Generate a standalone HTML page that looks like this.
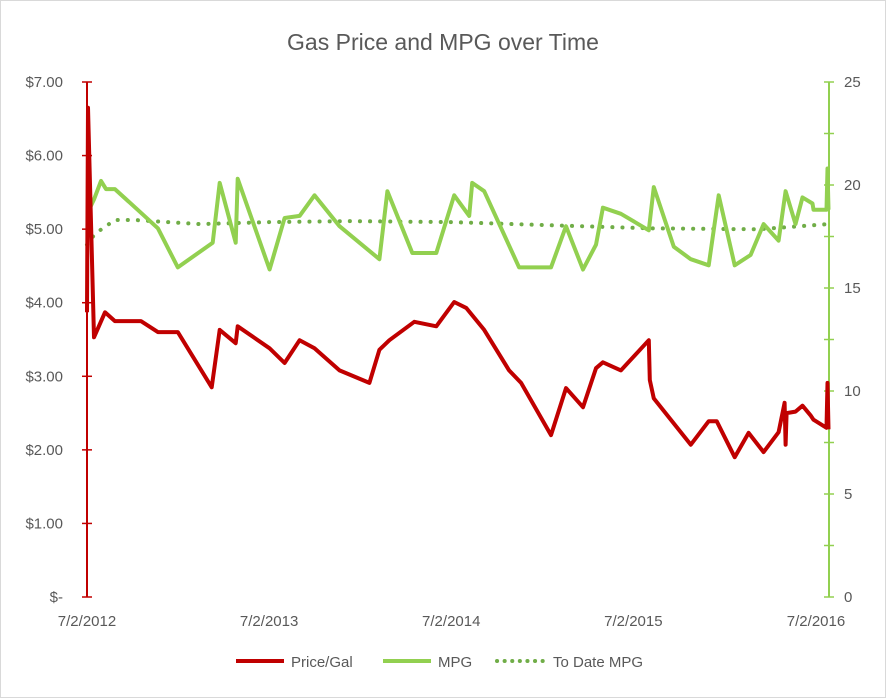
<!DOCTYPE html>
<html><head><meta charset="utf-8"><style>
body{margin:0;background:#fff}
svg{display:block;font-family:"Liberation Sans",Arial,sans-serif}
</style></head><body>
<svg id="c" width="886" height="698">
<rect x="0.5" y="0.5" width="885" height="697" fill="#fff" stroke="#d9d9d9"/>
<text x="443" y="50" text-anchor="middle" font-size="23" fill="#595959">Gas Price and MPG over Time</text>
<g id="axes"></g><g id="series"></g>
<g>
<g><line x1="236" y1="661" x2="284" y2="661" stroke="#c00000" stroke-width="4"/><text x="291" y="667" font-size="15" fill="#595959">Price/Gal</text></g>
<g><line x1="383" y1="661" x2="431" y2="661" stroke="#92d050" stroke-width="4"/><text x="438" y="667" font-size="15" fill="#595959">MPG</text></g>
<g><line x1="497" y1="661" x2="545" y2="661" stroke="#70ad47" stroke-width="4" stroke-dasharray="0.1 7.5" stroke-linecap="round"/><text x="553" y="667" font-size="15" fill="#595959">To Date MPG</text></g>
</g>
</svg>
<script>
const xTickLabels=["7/2/2012","7/2/2013","7/2/2014","7/2/2015","7/2/2016"];
const xTickDays=[0,365,730,1095,1461];
const priceTicks=[0,1,2,3,4,5,6,7];
const priceTickLabels=["$-","$1.00","$2.00","$3.00","$4.00","$5.00","$6.00","$7.00"];
const mpgTicks=[0,5,10,15,20,25];
const priceDays=[0,2,14,36,56,108,142,182,250,266,298,302,366,396,426,456,506,566,586,606,656,700,736,760,796,846,870,930,960,994,1020,1034,1070,1126,1128,1136,1210,1246,1262,1298,1326,1356,1386,1398,1400,1402,1420,1434,1450,1456,1482,1484,1486];
const priceVals=[3.87,6.65,3.53,3.87,3.75,3.75,3.60,3.60,2.85,3.63,3.45,3.68,3.38,3.18,3.49,3.38,3.08,2.91,3.36,3.49,3.74,3.68,4.01,3.93,3.63,3.08,2.91,2.20,2.84,2.58,3.11,3.19,3.08,3.49,2.95,2.70,2.07,2.39,2.39,1.90,2.23,1.97,2.24,2.64,2.07,2.50,2.52,2.60,2.47,2.41,2.30,2.91,2.28];
const mpgDays=[0,6,14,28,38,56,106,142,182,252,266,298,302,366,396,426,456,506,586,602,652,700,736,766,772,796,866,930,960,994,1020,1034,1070,1126,1136,1176,1210,1246,1266,1298,1330,1356,1386,1400,1420,1434,1454,1456,1482,1484,1486];
const mpgVals=[19.0,18.9,19.3,20.2,19.8,19.8,18.7,17.9,16.0,17.2,20.1,17.2,20.3,15.9,18.4,18.5,19.5,18.0,16.4,19.7,16.7,16.7,19.5,18.5,20.1,19.7,16.0,16.0,18.0,15.9,17.1,18.9,18.6,17.8,19.9,17.0,16.4,16.1,19.5,16.1,16.6,18.1,17.3,19.7,18.1,19.4,19.1,18.8,18.8,20.8,18.8];
const todayDays=[0,12,26,56,96,226,366,526,730,926,1126,1346,1486];
const todayVals=[17.1,17.5,17.8,18.3,18.3,18.1,18.2,18.25,18.2,18.05,17.9,17.85,18.1];

const X0=87,X1=816,Y0=597,Y1=82,XR=829;
const xs=d=>X0+(d/1461)*(X1-X0);
const yp=v=>Y0-(v/7)*(Y0-Y1);
const ym=v=>Y0-(v/25)*(Y0-Y1);
const NS="http://www.w3.org/2000/svg";
function mk(tag,attrs,parent){const e=document.createElementNS(NS,tag);for(const k in attrs)e.setAttribute(k,attrs[k]);parent.appendChild(e);return e;}
const ax=document.getElementById('axes'),se=document.getElementById('series');
let e=mk('line',{x1:X0,y1:Y1,x2:X0,y2:Y0,stroke:'#c00000','stroke-width':2},ax);


e=mk('line',{x1:XR,y1:Y1,x2:XR,y2:Y0,stroke:'#92d050','stroke-width':2},ax);


priceTicks.forEach((v,i)=>{
 const t=mk('line',{x1:X0-5,x2:X0+5,y1:yp(v),y2:yp(v),stroke:'#c00000','stroke-width':1.5},ax);
 
 
 const l=mk('text',{x:X0-24,y:yp(v)+5,'text-anchor':'end','font-size':15,fill:'#595959'},ax);
 l.textContent=priceTickLabels[i];
 
 
});
for(let v=0;v<=25;v+=2.5){
 const t=mk('line',{x1:XR-5,x2:XR+5,y1:ym(v),y2:ym(v),stroke:'#92d050','stroke-width':1.5},ax);
 
 
}
mpgTicks.forEach(v=>{
 const l=mk('text',{x:XR+15,y:ym(v)+5,'font-size':15,fill:'#595959'},ax);
 l.textContent=v;
 
 
});
xTickDays.forEach((d,i)=>{
 const l=mk('text',{x:xs(d),y:626,'text-anchor':'middle','font-size':15,fill:'#595959'},ax);
 l.textContent=xTickLabels[i];
 
 
});
function pts(ds,vs,f){return ds.map((d,i)=>xs(d).toFixed(1)+','+f(vs[i]).toFixed(1)).join(' ');}
e=mk('polyline',{points:pts(todayDays,todayVals,ym),fill:'none',stroke:'#70ad47','stroke-width':4,'stroke-dasharray':'0.1 10','stroke-linecap':'round'},se);


e=mk('polyline',{points:pts(mpgDays,mpgVals,ym),fill:'none',stroke:'#92d050','stroke-width':4,'stroke-linejoin':'round'},se);


e=mk('polyline',{points:pts(priceDays,priceVals,yp),fill:'none',stroke:'#c00000','stroke-width':4,'stroke-linejoin':'round'},se);


</script>
</body></html>
